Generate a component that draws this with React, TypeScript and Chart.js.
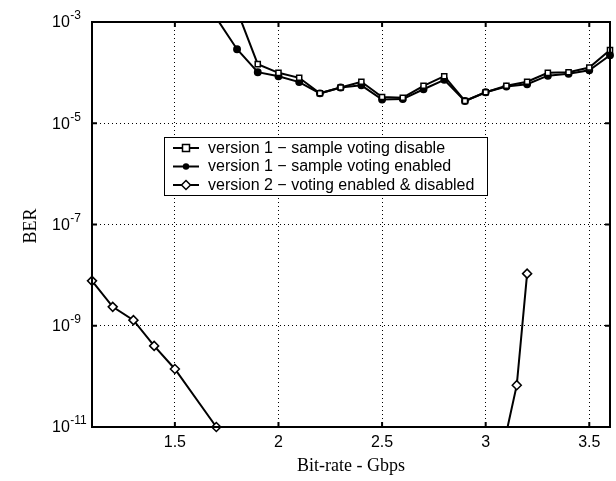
import React, { useEffect, useRef } from "react";
import { Chart, registerables } from "chart.js";

Chart.register(...registerables);

// ---- data ----
const xDisable = [1.8, 1.9, 2.0, 2.1, 2.2, 2.3, 2.4, 2.5, 2.6, 2.7, 2.8, 2.9, 3.0, 3.1, 3.2, 3.3, 3.4, 3.5, 3.6];
const berDisable = [1.7e-3, 1.47e-4, 9.9e-5, 7.9e-5, 3.9e-5, 5.1e-5, 6.6e-5, 3.3e-5, 3.2e-5, 5.5e-5, 8.5e-5, 2.75e-5, 4.1e-5, 5.5e-5, 6.6e-5, 9.9e-5, 1.02e-4, 1.26e-4, 2.8e-4];

const xEnabled = [1.7, 1.8, 1.9, 2.0, 2.1, 2.2, 2.3, 2.4, 2.5, 2.6, 2.7, 2.8, 2.9, 3.0, 3.1, 3.2, 3.3, 3.4, 3.5, 3.6];
const berEnabled = [1.2e-3, 2.9e-4, 1.02e-4, 8.5e-5, 6.5e-5, 3.9e-5, 5.1e-5, 5.6e-5, 2.95e-5, 3.0e-5, 4.7e-5, 7.2e-5, 2.75e-5, 4.1e-5, 5.3e-5, 5.9e-5, 8.7e-5, 9.5e-5, 1.11e-4, 2.2e-4];

const xV2Low = [1.1, 1.2, 1.3, 1.4, 1.5, 1.7];
const berV2Low = [7.7e-9, 2.36e-9, 1.29e-9, 4.0e-10, 1.4e-10, 1.0e-11];
const xV2High = [3.1, 3.15, 3.2];
const berV2High = [7.8e-12, 6.7e-11, 1.07e-8];

const xTicks = [1.5, 2, 2.5, 3, 3.5];
const xTickLabels = ["1.5", "2", "2.5", "3", "3.5"];
const yTicks = [1e-11, 1e-9, 1e-7, 1e-5, 1e-3];
const yTickExponents = ["-11", "-9", "-7", "-5", "-3"];

const legendLabels = [
  "version 1 \u2212 sample voting disable",
  "version 1 \u2212 sample voting enabled",
  "version 2 \u2212 voting enabled & disabled",
];
const xTitle = "Bit-rate - Gbps";
const yTitle = "BER";

const SANS = '"Liberation Sans", Arial, sans-serif';
const SERIF = '"Liberation Serif", "Times New Roman", serif';

function pts(xs: number[], ys: number[]) {
  return xs.map((x, i) => ({ x, y: ys[i] }));
}

function drawMarker(ctx: CanvasRenderingContext2D, kind: string, x: number, y: number) {
  ctx.save();
  ctx.lineWidth = 1.5;
  ctx.strokeStyle = "#000";
  if (kind === "rect") {
    ctx.fillStyle = "#fff";
    ctx.beginPath();
    ctx.rect(x - 3.5, y - 3.5, 7, 7);
    ctx.fill();
    ctx.stroke();
  } else if (kind === "circle") {
    ctx.fillStyle = "#000";
    ctx.beginPath();
    ctx.arc(x, y, 3.2, 0, Math.PI * 2);
    ctx.fill();
  } else {
    ctx.fillStyle = "#fff";
    ctx.beginPath();
    ctx.moveTo(x, y - 4.5);
    ctx.lineTo(x + 4.5, y);
    ctx.lineTo(x, y + 4.5);
    ctx.lineTo(x - 4.5, y);
    ctx.closePath();
    ctx.fill();
    ctx.stroke();
  }
  ctx.restore();
}

const decorPlugin = {
  id: "decor",
  afterDraw(chart: any) {
    const ctx: CanvasRenderingContext2D = chart.ctx;
    const { left, right, top, bottom } = chart.chartArea;
    const xs = chart.scales.x;
    const ys = chart.scales.y;
    ctx.save();
    // frame
    ctx.strokeStyle = "#000";
    ctx.lineWidth = 2;
    ctx.strokeRect(left, top, right - left, bottom - top);
    // inward ticks
    ctx.lineWidth = 2;
    ctx.beginPath();
    xTicks.forEach((v) => {
      const px = xs.getPixelForValue(v);
      ctx.moveTo(px, bottom);
      ctx.lineTo(px, bottom - 5);
      ctx.moveTo(px, top);
      ctx.lineTo(px, top + 5);
    });
    yTicks.forEach((v) => {
      const py = ys.getPixelForValue(v);
      ctx.moveTo(left, py);
      ctx.lineTo(left + 5, py);
      ctx.moveTo(right, py);
      ctx.lineTo(right - 5, py);
    });
    ctx.stroke();

    // x tick labels
    ctx.fillStyle = "#000";
    ctx.font = "16px " + SANS;
    ctx.textAlign = "center";
    ctx.textBaseline = "middle";
    xTicks.forEach((v, i) => {
      ctx.fillText(xTickLabels[i], xs.getPixelForValue(v), bottom + 16);
    });
    // y tick labels with superscripts
    yTicks.forEach((v, i) => {
      const py = ys.getPixelForValue(v);
      ctx.textAlign = "left";
      ctx.font = "16px " + SANS;
      ctx.fillText("10", 52, py + 1);
      const w = ctx.measureText("10").width;
      ctx.font = "12px " + SANS;
      ctx.fillText(yTickExponents[i], 52 + w + 0.5, py - 6);
    });
    // axis titles
    ctx.font = "18px " + SERIF;
    ctx.textAlign = "center";
    ctx.fillText(xTitle, 351, 466);
    ctx.save();
    ctx.translate(31, 226);
    ctx.rotate(-Math.PI / 2);
    ctx.fillText(yTitle, 0, 0);
    ctx.restore();

    // legend
    const bx = 164, by = 137, bw = 323, bh = 58;
    ctx.fillStyle = "#fff";
    ctx.fillRect(bx, by, bw, bh);
    ctx.lineWidth = 1;
    ctx.strokeStyle = "#000";
    ctx.strokeRect(bx + 0.5, by + 0.5, bw, bh);
    const kinds = ["rect", "circle", "diamond"];
    const rowsY = [148, 166.5, 185];
    legendLabels.forEach((label, i) => {
      const y = rowsY[i];
      ctx.lineWidth = 2;
      ctx.beginPath();
      ctx.moveTo(173, y);
      ctx.lineTo(199, y);
      ctx.stroke();
      drawMarker(ctx, kinds[i], 186, y);
      ctx.fillStyle = "#000";
      ctx.font = "16px " + SANS;
      ctx.textAlign = "left";
      ctx.textBaseline = "middle";
      ctx.fillText(label, 208, y + 0.5);
    });
    ctx.restore();
  },
};

export default function App() {
  const ref = useRef<HTMLCanvasElement | null>(null);
  useEffect(() => {
    const canvas = ref.current!;
    const common = {
      borderColor: "#000",
      borderWidth: 2,
      pointBorderColor: "#000",
      pointBorderWidth: 1.5,
      showLine: true,
      tension: 0,
    };
    const chart = new Chart(canvas, {
      type: "scatter",
      data: {
        datasets: [
          {
            ...common,
            label: legendLabels[0],
            data: pts(xDisable, berDisable),
            pointStyle: "rect",
            pointRadius: 3.6,
            pointBackgroundColor: "#fff",
            clip: { left: 10, right: 10, top: 0, bottom: 10 },
          },
          {
            ...common,
            label: legendLabels[1],
            data: pts(xEnabled, berEnabled),
            pointStyle: "circle",
            pointRadius: 3.2,
            pointBackgroundColor: "#000",
            clip: { left: 10, right: 10, top: 0, bottom: 10 },
          },
          {
            ...common,
            label: legendLabels[2],
            data: pts(xV2Low, berV2Low),
            pointStyle: "rectRot",
            pointRadius: 4.5,
            pointBackgroundColor: "#fff",
            clip: false,
          },
          {
            ...common,
            label: legendLabels[2] + " ",
            data: pts(xV2High, berV2High),
            pointStyle: "rectRot",
            pointRadius: 4.5,
            pointBackgroundColor: "#fff",
            clip: { left: 10, right: 10, top: 10, bottom: 0 },
          },
        ],
      } as any,
      options: {
        responsive: false,
        animation: false,
        devicePixelRatio: 1,
        layout: { padding: { top: 22, right: 6, left: 0, bottom: 0 } },
        plugins: { legend: { display: false }, tooltip: { enabled: false } },
        scales: {
          x: {
            type: "linear",
            min: 1.1,
            max: 3.6,
            ticks: { display: false },
            grid: { color: "#000", lineWidth: 1, drawTicks: false },
            border: { display: false, dash: [1, 3] },
            afterBuildTicks: (s: any) => {
              s.ticks = xTicks.map((v) => ({ value: v }));
            },
            afterFit: (s: any) => {
              s.height = 54;
            },
          },
          y: {
            type: "logarithmic",
            min: 1e-11,
            max: 1e-3,
            ticks: { display: false },
            grid: { color: "#000", lineWidth: 1, drawTicks: false },
            border: { display: false, dash: [1, 3] },
            afterBuildTicks: (s: any) => {
              s.ticks = yTicks.map((v) => ({ value: v }));
            },
            afterFit: (s: any) => {
              s.width = 92;
            },
          },
        },
      } as any,
      plugins: [decorPlugin],
    });
    return () => chart.destroy();
  }, []);
  return (
    <div style={{ position: "absolute", left: 0, top: 0, width: 616, height: 481, background: "#fff" }}>
      <canvas ref={ref} width={616} height={481} style={{ width: 616, height: 481, display: "block" }} />
    </div>
  );
}
